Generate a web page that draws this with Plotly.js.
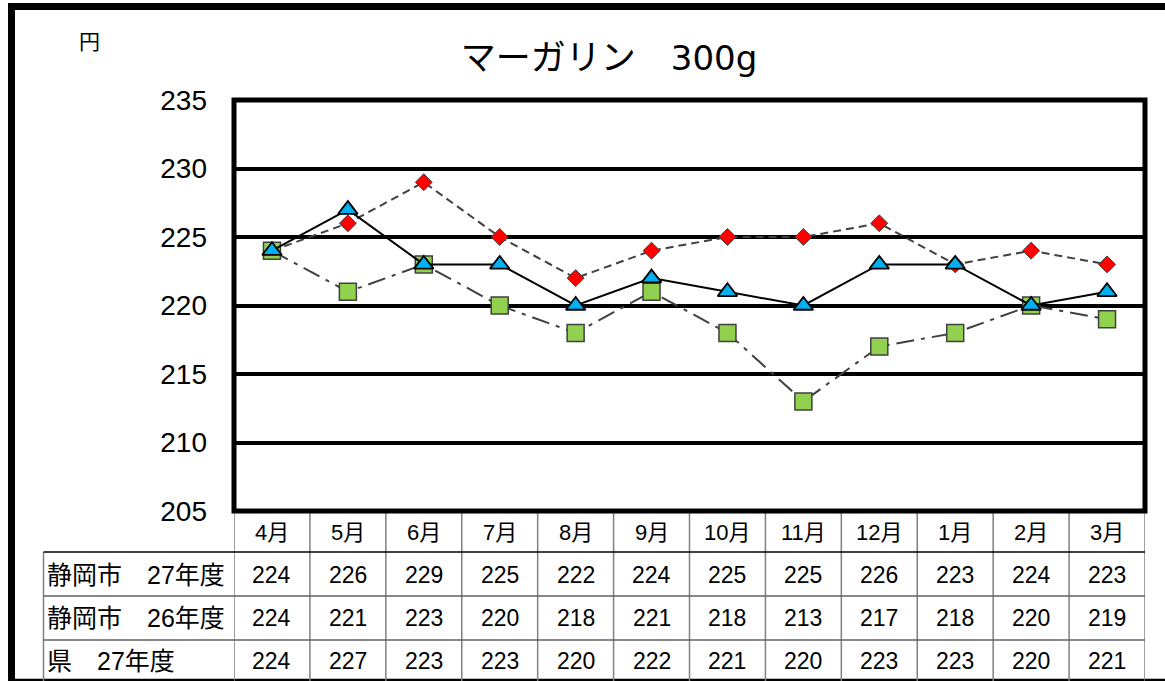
<!DOCTYPE html>
<html>
<head>
<meta charset="utf-8">
<script src="https://cdn.plot.ly/plotly-3.0.1.min.js"></script>
<style>html,body{margin:0;padding:0;background:#fff;}#chart{width:1165px;height:681px;}</style>
</head>
<body>
<div id="chart"></div>
<script>
// ---- data ----
const months = ["4月","5月","6月","7月","8月","9月","10月","11月","12月","1月","2月","3月"];
const seriesNames = ["静岡市　27年度","静岡市　26年度","県　27年度"];
const shizuoka27 = [224,226,229,225,222,224,225,225,226,223,224,223];
const shizuoka26 = [224,221,223,220,218,221,218,213,217,218,220,219];
const ken27 = [224,227,223,223,220,222,221,220,223,223,220,221];
const yTicks = [205,210,215,220,225,230,235];
const titleMain = "マーガリン";
const titleSize = "300g";
const unitText = "円";

// ---- layout helpers (pixel -> paper) ----
const W = 1165, H = 681;
const L = 234, R = 1145, T = 100, B = 511;
const px2x = p => (p - L) / (R - L);
const px2y = p => (B - p) / (B - T);

const FONT = "Liberation Sans, Noto Sans CJK JP, sans-serif";

const traces = [
  {
    x: months, y: shizuoka27, name: seriesNames[0], type: "scatter", mode: "lines+markers",
    line: {color: "#404040", width: 2, dash: "8px,5px"},
    marker: {symbol: "diamond", size: 13, color: "#FF0000", line: {color: "#404040", width: 1}}
  },
  {
    x: months, y: shizuoka26, name: seriesNames[1], type: "scatter", mode: "lines+markers",
    line: {color: "#404040", width: 2, dash: "18px,7px,4px,7px"},
    marker: {symbol: "square", size: 17, color: "#92D050", line: {color: "#404040", width: 1.5}}
  },
  {
    x: months, y: ken27, name: seriesNames[2], type: "scatter", mode: "lines+markers",
    line: {color: "#000000", width: 2},
    marker: {symbol: "triangle-up", size: 17, color: "#00B0F0", line: {color: "#000000", width: 1.8}}
  }
];

const shapes = [];
const annotations = [];

// outer frame
shapes.push({type: "rect", xref: "paper", yref: "paper",
  x0: px2x(11.5), x1: px2x(1175), y0: px2y(690), y1: px2y(6.5),
  line: {color: "#000", width: 7}});
shapes.push({type: "line", xref: "paper", yref: "paper",
  x0: px2x(8), x1: px2x(1170), y0: px2y(680), y1: px2y(680),
  line: {color: "#000", width: 2.5}});

// table vertical lines at category boundaries
for (let i = 0; i <= months.length; i++) {
  shapes.push({type: "line", xref: "x", yref: "paper",
    x0: i - 0.5, x1: i - 0.5, y0: 0, y1: px2y(681),
    line: {color: "#808080", width: 1.5}});
}
// left label column border
shapes.push({type: "line", xref: "paper", yref: "paper",
  x0: px2x(43.5), x1: px2x(43.5), y0: px2y(552), y1: px2y(681),
  line: {color: "#808080", width: 1.5}});
// row lines
const rowLines = [552, 596, 640];
rowLines.forEach((py, k) => {
  shapes.push({type: "line", xref: "paper", yref: "paper",
    x0: px2x(43.5), x1: 1, y0: px2y(py), y1: px2y(py),
    line: {color: k === 0 ? "#000" : "#606060", width: 1.5}});
});

// plot frame
shapes.push({type: "rect", xref: "paper", yref: "paper", x0: 0, x1: 1, y0: 0, y1: 1,
  line: {color: "#000", width: 5}});

// header months
months.forEach((m, i) => {
  annotations.push({x: m, xref: "x", y: px2y(532), yref: "paper", text: m, showarrow: false,
    xanchor: "center", yanchor: "middle", font: {family: FONT, size: 22, color: "#000"}});
});
// rows
const rows = [shizuoka27, shizuoka26, ken27];
const rowY = [575, 618, 661];
rows.forEach((vals, r) => {
  annotations.push({x: px2x(45), xref: "paper", y: px2y(rowY[r]), yref: "paper", text: seriesNames[r],
    showarrow: false, xanchor: "left", yanchor: "middle", font: {family: FONT, size: 25, color: "#000"}});
  vals.forEach((v, i) => {
    annotations.push({x: months[i], xref: "x", y: px2y(rowY[r]), yref: "paper", text: String(v),
      showarrow: false, xanchor: "center", yanchor: "middle", font: {family: FONT, size: 23, color: "#000"}});
  });
});
// unit label
annotations.push({x: px2x(89), xref: "paper", y: px2y(42), yref: "paper", text: unitText, showarrow: false,
  xanchor: "center", yanchor: "middle", font: {family: FONT, size: 21, color: "#000"}});

const layout = {
  width: W, height: H,
  margin: {l: L, r: W - R, t: T, b: H - B, pad: 0},
  paper_bgcolor: "#fff", plot_bgcolor: "#fff",
  showlegend: false,
  title: {text: '<span style="font-family:Noto Sans CJK JP;font-size:35px">' + titleMain + '　</span>' +
      '<span style="font-family:DejaVu Sans;font-size:34px">' + titleSize + '</span>',
    x: 609 / W, xref: "container", xanchor: "center",
    y: 1 - 59 / H, yref: "container", yanchor: "middle",
    font: {family: "Noto Sans CJK JP, sans-serif", size: 32, color: "#000"}},
  xaxis: {type: "category", range: [-0.5, 11.5], showgrid: false, zeroline: false,
    showticklabels: false, ticks: "", showline: false, fixedrange: true},
  yaxis: {range: [205, 235], tickvals: yTicks, ticktext: yTicks.map(String),
    showgrid: true, gridcolor: "#000", gridwidth: 4, zeroline: false, showline: false,
    ticks: "", ticklabelstandoff: 26,
    tickfont: {family: FONT, size: 28, color: "#000"}, fixedrange: true},
  shapes: shapes,
  annotations: annotations
};

Plotly.newPlot("chart", traces, layout, {displayModeBar: false, staticPlot: true});
</script>
</body>
</html>
